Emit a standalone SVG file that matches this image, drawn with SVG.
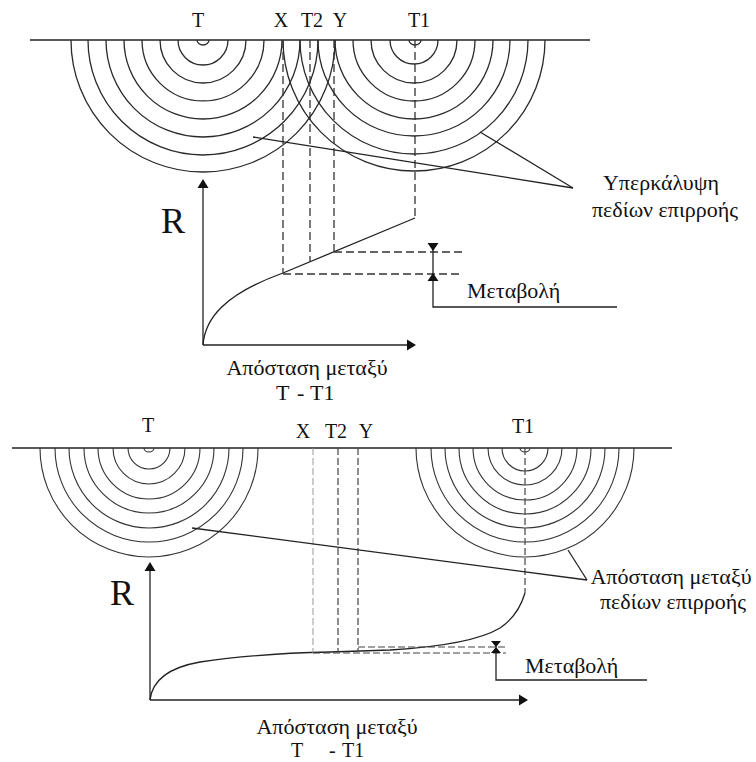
<svg xmlns="http://www.w3.org/2000/svg" width="756" height="762" viewBox="0 0 756 762">
<defs>
<style>
.ln{fill:none;stroke:#222;stroke-width:1.3}
.arc{fill:none;stroke:#2a2a2a;stroke-width:1.3}
.arc2{fill:none;stroke:#333;stroke-width:1.1}
.ds{fill:none;stroke:#333;stroke-width:1.3;stroke-dasharray:8 4}
.ds2{fill:none;stroke:#444;stroke-width:1.2;stroke-dasharray:7 3}
.ds3{fill:none;stroke:#999;stroke-width:1;stroke-dasharray:7 3}
.hd{fill:#111;stroke:none}
text{font-family:'Liberation Serif','DejaVu Serif',serif;fill:#111}
.tx{font-size:20px}
.gk{font-size:22px}
.big{font-size:36px}
</style>
</defs>
<rect width="756" height="762" fill="#fff"/>

<!-- ===== TOP DIAGRAM ===== -->
<g id="top-ground"><line class="ln" x1="30" y1="40" x2="590" y2="40"/></g>

<g id="top-T-field">
<path class="arc" d="M197,40 A6 5 0 0 0 209,40"/>
<path class="arc" d="M178,40 A25 25 0 0 0 228,40"/>
<path class="arc" d="M160,40 A43 43 0 0 0 246,40"/>
<path class="arc" d="M142,40 A61 61 0 0 0 264,40"/>
<path class="arc" d="M124,40 A79 79 0 0 0 282,40"/>
<path class="arc" d="M106,40 A97 97 0 0 0 300,40"/>
<path class="arc" d="M88,40 A115 115 0 0 0 318,40"/>
<path class="arc" d="M71,40 A132 132 0 0 0 335,40"/>
</g>

<g id="top-T1-field">
<path class="arc" d="M409,40 A6 5 0 0 0 421,40"/>
<path class="arc" d="M390,40 A24 24 0 0 0 438,40"/>
<path class="arc" d="M371,40 A43 43 0 0 0 457,40"/>
<path class="arc" d="M353,40 A61 61 0 0 0 475,40"/>
<path class="arc" d="M335,40 A79 79 0 0 0 493,40"/>
<path class="arc" d="M318,40 A96 96 0 0 0 510,40"/>
<path class="arc" d="M300,40 A114 114 0 0 0 528,40"/>
<path class="arc" d="M283,40 A131 131 0 0 0 545,40"/>
</g>

<g id="top-labels">
<text class="tx" x="198" y="27" text-anchor="middle">T</text>
<text class="tx" x="281" y="27" text-anchor="middle">X</text>
<text class="tx" x="312" y="27" text-anchor="middle">T2</text>
<text class="tx" x="340" y="27" text-anchor="middle">Y</text>
<text class="tx" x="419" y="27" text-anchor="middle">T1</text>
<text class="big" x="161" y="233">R</text>
<text class="gk" x="661" y="190" text-anchor="middle">Υπερκάλυψη</text>
<text class="gk" x="665" y="217" text-anchor="middle">πεδίων επιρροής</text>
<text class="gk" x="467" y="298">Μεταβολή</text>
<text class="gk" x="307" y="375" text-anchor="middle">Απόσταση μεταξύ</text>
<text class="gk" y="400"><tspan x="276">T</tspan><tspan x="297">-</tspan><tspan x="310">T1</tspan></text>
</g>

<g id="top-graph">
<line class="ln" x1="203" y1="345" x2="203" y2="186"/>
<polygon class="hd" points="203,179 197.5,188 208.5,188"/>
<line class="ln" x1="203" y1="345" x2="408" y2="345"/>
<polygon class="hd" points="416,345 407,339.5 407,350.5"/>
<path class="ln" d="M203,345 C205,318 225,294 283,273 L415,218"/>
</g>

<g id="top-connectors">
<line class="ds" x1="283" y1="40" x2="283" y2="273"/>
<line class="ds" x1="310" y1="40" x2="310" y2="262"/>
<line class="ds" x1="334" y1="40" x2="334" y2="252"/>
<line class="ds" x1="415" y1="40" x2="415" y2="218"/>
<line class="ds" x1="334" y1="252" x2="462" y2="252"/>
<line class="ds" x1="283" y1="274" x2="462" y2="274"/>
<polyline class="ln" points="433,244 433,307 617,307"/>
<polygon class="hd" points="427.5,243 438.5,243 433,251"/>
<polygon class="hd" points="433,273 427.5,281 438.5,281"/>
<line class="ln" x1="253" y1="137" x2="573" y2="188"/>
<line class="ln" x1="480" y1="132" x2="573" y2="188"/>
</g>

<!-- ===== BOTTOM DIAGRAM ===== -->
<g id="bottom-ground"><line class="ln" x1="12" y1="448" x2="672" y2="448"/></g>

<g id="bottom-T-field">
<path class="arc2" d="M144,448 A5 4 0 0 0 154,448"/>
<path class="arc2" d="M128,448 A21 21 0 0 0 170,448"/>
<path class="arc2" d="M113,448 A36 36 0 0 0 185,448"/>
<path class="arc2" d="M98,448 A51 51 0 0 0 200,448"/>
<path class="arc2" d="M84,448 A65 65 0 0 0 214,448"/>
<path class="arc2" d="M69,448 A80 80 0 0 0 229,448"/>
<path class="arc2" d="M55,448 A94 94 0 0 0 243,448"/>
<path class="arc2" d="M40,448 A109 109 0 0 0 258,448"/>
</g>

<g id="bottom-T1-field">
<path class="arc2" d="M520,448 A5 4 0 0 0 530,448"/>
<path class="arc2" d="M502,448 A23 23 0 0 0 548,448"/>
<path class="arc2" d="M488,448 A37 37 0 0 0 562,448"/>
<path class="arc2" d="M473,448 A52 52 0 0 0 577,448"/>
<path class="arc2" d="M459,448 A66 66 0 0 0 591,448"/>
<path class="arc2" d="M445,448 A80 80 0 0 0 605,448"/>
<path class="arc2" d="M431,448 A94 94 0 0 0 619,448"/>
<path class="arc2" d="M416,448 A109 109 0 0 0 634,448"/>
</g>

<g id="bottom-labels">
<text class="tx" x="148" y="432" text-anchor="middle">T</text>
<text class="tx" x="303" y="438" text-anchor="middle">X</text>
<text class="tx" x="336" y="438" text-anchor="middle">T2</text>
<text class="tx" x="366" y="438" text-anchor="middle">Y</text>
<text class="tx" x="523" y="433" text-anchor="middle">T1</text>
<text class="big" x="110" y="605">R</text>
<text class="gk" x="671" y="584" text-anchor="middle">Απόσταση μεταξύ</text>
<text class="gk" x="673" y="609" text-anchor="middle">πεδίων επιρροής</text>
<text class="gk" x="525" y="673">Μεταβολή</text>
<text class="gk" x="337" y="734" text-anchor="middle">Απόσταση μεταξύ</text>
<text class="tx" y="757"><tspan x="291">T</tspan><tspan x="329">-</tspan><tspan x="342">T1</tspan></text>
</g>

<g id="bottom-graph">
<line class="ln" x1="150" y1="700" x2="150" y2="569"/>
<polygon class="hd" points="150,562 144.5,571 155.5,571"/>
<line class="ln" x1="150" y1="700" x2="520" y2="700"/>
<polygon class="hd" points="528,700 519,694.5 519,705.5"/>
<path class="ln" d="M150,700 C152,682 166,668 200,662 C240,656 280,653 330,652 L390,650 C440,647 480,640 500,628 C515,618 522,603 525,593"/>
</g>

<g id="bottom-connectors">
<line class="ds3" x1="313" y1="448" x2="313" y2="653"/>
<line class="ds2" x1="338" y1="448" x2="338" y2="652"/>
<line class="ds2" x1="358" y1="448" x2="358" y2="651"/>
<line class="ds2" x1="525" y1="448" x2="525" y2="593"/>
<line class="ds2" x1="358" y1="647" x2="506" y2="647"/>
<line class="ds2" x1="313" y1="653" x2="506" y2="653"/>
<polyline class="ln" points="496,642 496,680 647,680"/>
<polygon class="hd" points="491,641 501,641 496,647"/>
<polygon class="hd" points="496,647 491,653 501,653"/>
<line class="ln" x1="192" y1="528" x2="587" y2="580"/>
<line class="ln" x1="568" y1="550" x2="587" y2="580"/>
</g>
</svg>
